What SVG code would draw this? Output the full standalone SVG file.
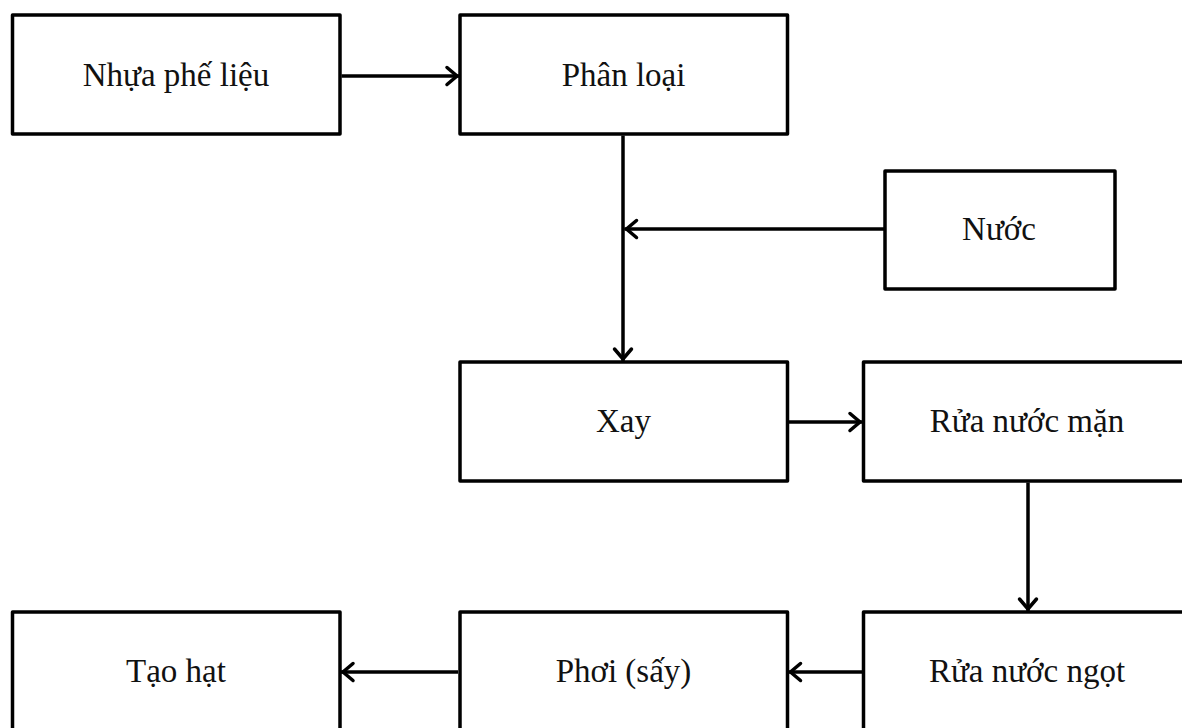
<svg xmlns="http://www.w3.org/2000/svg" width="1182" height="728" viewBox="0 0 1182 728">
  <style>
    .box { fill: #ffffff; stroke: #000000; stroke-width: 3.5; stroke-linejoin: round; }
    .lbl { font-family: "Liberation Serif", "Times New Roman", serif; font-size: 33px; fill: #111111; text-anchor: middle; }
    .link { fill: none; stroke: #000000; stroke-width: 3.5; marker-end: url(#head); }
  </style>
  <defs>
    <marker id="head" markerUnits="userSpaceOnUse" viewBox="-14 -10 16 20" refX="0" refY="0" markerWidth="16" markerHeight="20" orient="auto" overflow="visible">
      <path d="M-12,-8.5 L-2,0 L-12,8.5" fill="none" stroke="#000000" stroke-width="3.5" stroke-linecap="round" stroke-linejoin="miter"/>
    </marker>
  </defs>
  <rect width="1182" height="728" fill="#ffffff"/>

  <!-- connectors -->
  <g id="connectors">
    <path class="link" d="M341.5,76 H459"/>
    <path class="link" d="M623,135.5 V361"/>
    <path class="link" d="M884,229 H624.5"/>
    <path class="link" d="M788.5,422 H862"/>
    <path class="link" d="M1028,482.5 V611"/>
    <path class="link" d="M862,672 H788.5"/>
    <path class="link" d="M458,672 H341"/>
  </g>

  <!-- process steps -->
  <g id="nhua-phe-lieu">
    <rect class="box" x="12.5" y="15" width="327.5" height="119"/>
    <text class="lbl" x="176" y="86">Nhựa phế liệu</text>
  </g>
  <g id="phan-loai">
    <rect class="box" x="460" y="15" width="327.5" height="119"/>
    <text class="lbl" x="623.5" y="86">Phân loại</text>
  </g>
  <g id="nuoc">
    <rect class="box" x="885" y="171" width="230" height="118"/>
    <text class="lbl" x="999" y="240">Nước</text>
  </g>
  <g id="xay">
    <rect class="box" x="460" y="362" width="327.5" height="119"/>
    <text class="lbl" x="623.5" y="432">Xay</text>
  </g>
  <g id="rua-nuoc-man">
    <rect class="box" x="863.5" y="362" width="327.5" height="119"/>
    <text class="lbl" x="1027" y="432">Rửa nước mặn</text>
  </g>
  <g id="tao-hat">
    <rect class="box" x="12.5" y="612" width="327.5" height="119"/>
    <text class="lbl" x="176" y="682">Tạo hạt</text>
  </g>
  <g id="phoi-say">
    <rect class="box" x="460" y="612" width="327.5" height="119"/>
    <text class="lbl" x="623.5" y="682">Phơi (sấy)</text>
  </g>
  <g id="rua-nuoc-ngot">
    <rect class="box" x="863.5" y="612" width="327.5" height="119"/>
    <text class="lbl" x="1027" y="682">Rửa nước ngọt</text>
  </g>
</svg>
